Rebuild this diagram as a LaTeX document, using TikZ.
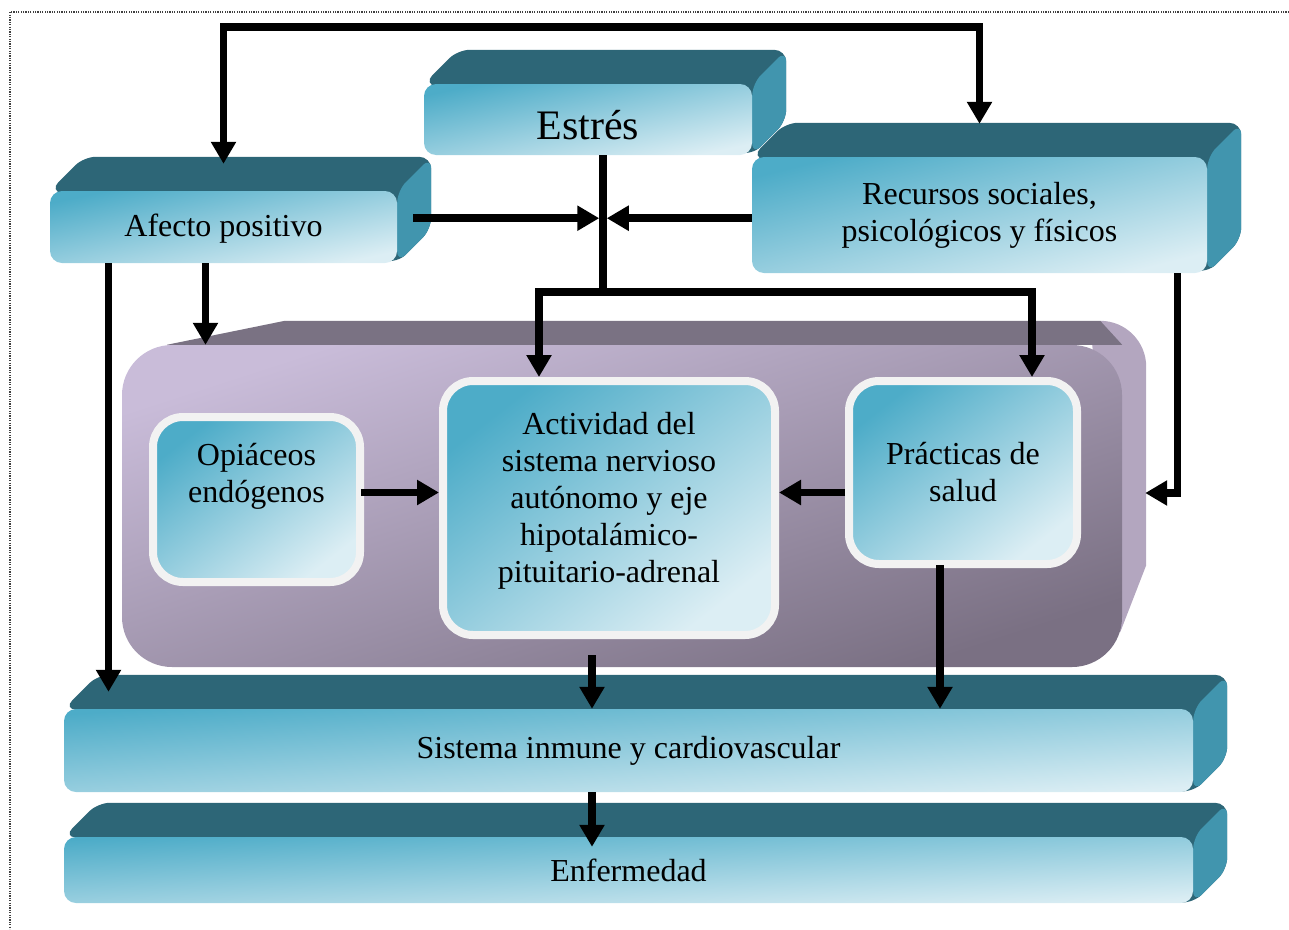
\documentclass[tikz,border=0pt]{standalone}
\usepackage{fontspec}
\setmainfont{Liberation Serif}
\usetikzlibrary{calc}
\usetikzlibrary{positioning}
\usetikzlibrary{arrows.meta}
\usetikzlibrary{backgrounds}

\definecolor{slabA}{HTML}{4DACC8}
\definecolor{slabB}{HTML}{DCEEF4}
\definecolor{slabtop}{HTML}{2D6677}
\definecolor{slabside}{HTML}{4195AE}
\definecolor{panelA}{HTML}{C9BCD9}
\definecolor{panelB}{HTML}{7A7083}
\definecolor{paneltop}{HTML}{7A7283}
\definecolor{panelside}{HTML}{B3A6BF}
\definecolor{boxrim}{HTML}{F2F2F2}

\begin{document}
\begin{tikzpicture}[
        x=1pt, y=-1pt,
        slab/.style={rectangle, rounded corners=12pt, inner sep=0pt, top color=slabA, bottom color=slabB, shading angle=12, align=center, font=\fontsize{32}{37}\selectfont},
        inbox/.style={rectangle, rounded corners=30pt, inner sep=0pt, draw=boxrim, line width=8pt, top color=slabA, bottom color=slabB, shading angle=38, align=center, font=\fontsize{32}{37}\selectfont},
        panelbox/.style={rectangle, rounded corners=50pt, top color=panelA, bottom color=panelB, shading angle=18},
        link/.style={line width=7.5pt},
        arr/.style={line width=7.5pt, -{Triangle[width=24pt, length=22pt]}},
        arrboth/.style={line width=7.5pt, {Triangle[width=24pt, length=22pt]}-{Triangle[width=24pt, length=22pt]}},
    ]

    \useasboundingbox (0,0) rectangle (1289,929);

    \def \depth {34};

    % Dotted frame
    \draw[black!75, line width=1.2pt, dash pattern=on 1.2pt off 1.2pt] (1289,12) -- (10,12) -- (10,929);

    % Purple panel
    \node[panelbox, minimum width=1000pt, minimum height=322pt] (panel) at (622,506) {};

    % Slabs
    \node[slab, minimum width=328pt, minimum height=71pt, text height=40pt, text depth=0pt, font=\fontsize{42}{48}\selectfont] (estres) at (588,119.5) {Estrés};
    \node[slab, minimum width=347pt, minimum height=72pt, text height=26pt] (afecto) at (223.5,227) {Afecto positivo};
    \node[slab, minimum width=455pt, minimum height=116pt, shading angle=14] (recursos) at (979.5,215) {Recursos sociales,\\psicológicos y físicos};
    \node[slab, minimum width=1129pt, minimum height=83pt, shading angle=4] (sistema) at (628.5,750.5) {Sistema inmune y cardiovascular};
    \node[slab, minimum width=1129pt, minimum height=66pt, shading angle=3] (enfermedad) at (628.5,870) {Enfermedad};

    % Boxes inside the panel
    \node[inbox, minimum width=207pt, minimum height=165pt, text depth=54pt] (opiaceos) at (256.5,499.5) {Opiáceos\\endógenos};
    \node[inbox, minimum width=332pt, minimum height=254pt, text depth=21pt] (actividad) at (609,508) {Actividad del\\sistema nervioso\\autónomo y eje\\hipotalámico-\\pituitario-adrenal};
    \node[inbox, minimum width=228pt, minimum height=183pt] (practicas) at (963,472.5) {Prácticas de\\salud};

    % Top and side faces
    \begin{scope}[on background layer]
        \fill[slabtop, rounded corners=12pt] (estres.north west) -- ++(\depth,-\depth) -- ($(estres.north east)+(\depth,-\depth)$) -- ($(estres.south east)+(\depth,-\depth)$) -- (estres.south east) -- cycle;
        \fill[slabside, rounded corners=12pt] (estres.north east) -- ++(\depth,-\depth) -- ($(estres.south east)+(\depth,-\depth)$) -- (estres.south east) -- cycle;

        \fill[slabtop, rounded corners=12pt] (afecto.north west) -- ++(\depth,-\depth) -- ($(afecto.north east)+(\depth,-\depth)$) -- ($(afecto.south east)+(\depth,-\depth)$) -- (afecto.south east) -- cycle;
        \fill[slabside, rounded corners=12pt] (afecto.north east) -- ++(\depth,-\depth) -- ($(afecto.south east)+(\depth,-\depth)$) -- (afecto.south east) -- cycle;

        \fill[slabtop, rounded corners=12pt] (recursos.north west) -- ++(\depth,-\depth) -- ($(recursos.north east)+(\depth,-\depth)$) -- ($(recursos.south east)+(\depth,-\depth)$) -- (recursos.south east) -- cycle;
        \fill[slabside, rounded corners=12pt] (recursos.north east) -- ++(\depth,-\depth) -- ($(recursos.south east)+(\depth,-\depth)$) -- (recursos.south east) -- cycle;

        \fill[slabtop, rounded corners=12pt] (sistema.north west) -- ++(\depth,-\depth) -- ($(sistema.north east)+(\depth,-\depth)$) -- ($(sistema.south east)+(\depth,-\depth)$) -- (sistema.south east) -- cycle;
        \fill[slabside, rounded corners=12pt] (sistema.north east) -- ++(\depth,-\depth) -- ($(sistema.south east)+(\depth,-\depth)$) -- (sistema.south east) -- cycle;

        \fill[slabtop, rounded corners=12pt] (enfermedad.north west) -- ++(\depth,-\depth) -- ($(enfermedad.north east)+(\depth,-\depth)$) -- ($(enfermedad.south east)+(\depth,-\depth)$) -- (enfermedad.south east) -- cycle;
        \fill[slabside, rounded corners=12pt] (enfermedad.north east) -- ++(\depth,-\depth) -- ($(enfermedad.south east)+(\depth,-\depth)$) -- (enfermedad.south east) -- cycle;

        % panel
        \fill[panelside] ($(panel.north east)+(-22,-24)$) arc[start angle=-90, end angle=0, radius=46] -- ($(panel.south east)+(24,-102)$) -- ($(panel.south east)+(-2,-35)$) -- ($(panel.north east)+(-30,0)$) -- cycle;
        \fill[paneltop] ($(panel.north west)+(45,0)$) -- ($(panel.north west)+(163,-24)$) -- ($(panel.north east)+(-22,-24)$) -- (panel.north east) -- cycle;
    \end{scope}

    % Junction points
    \coordinate (junc) at ($(estres.south)+(15,63)$);
    \coordinate (split) at ($(estres.south)+(15,137)$);
    \coordinate (looptop) at ($(afecto.north)+(0,-164)$);

    \coordinate (afectoA) at ($(afecto.south)+(-18,0)$);
    \coordinate (afectoB) at ($(afecto.south)+(-115,0)$);
    \coordinate (sistop) at ($(sistema.north)+(0,-17)$);
    \coordinate (opiout) at ($(opiaceos.east)+(-3,-7)$);
    \coordinate (recout) at ($(recursos.south)+(198,0)$);
    \coordinate (panelin) at ($(panel.east)+(23,-13)$);
    \coordinate (actout) at ($(actividad.south)+(-17,16)$);
    \coordinate (pracout) at ($(practicas.south)+(-23,-3)$);
    \coordinate (sisout) at ($(sistema.south)+(-36.5,0)$);
    \coordinate (enfin) at ($(enfermedad.north)+(0,10)$);

    \draw[arrboth] ([yshift=27pt]afecto.north) -- (looptop) -| ([yshift=33pt]recursos.north);

    \draw[arr, shorten >=3.75pt] ($(afecto.east |- junc)+(16,0)$) -- (junc);
    \draw[arr, shorten >=3.75pt] (recursos.west |- junc) -- (junc);
    \draw[link] (estres.south -| junc) -- (split);

    \draw[arr] (split) -| ($(actividad.north)+(-70,0)$);
    \draw[arr] (split) -| ($(practicas.north)+(69,0)$);

    \draw[arr] (afectoA) -- (afectoA |- panel.north);
    \draw[arr] (afectoB) -- (afectoB |- sistop);

    \draw[arr] (opiout) -- (opiout -| actividad.west);
    \draw[arr] (practicas.west |- opiout) -- (actividad.east |- opiout);
    \draw[arr] (recout) |- (panelin);

    \draw[arr] (actout) -- (actout |- sistema.north);
    \draw[arr] (pracout) -- (pracout |- sistema.north);
    \draw[arr] (sisout) -- (sisout |- enfin);
\end{tikzpicture}
\end{document}
